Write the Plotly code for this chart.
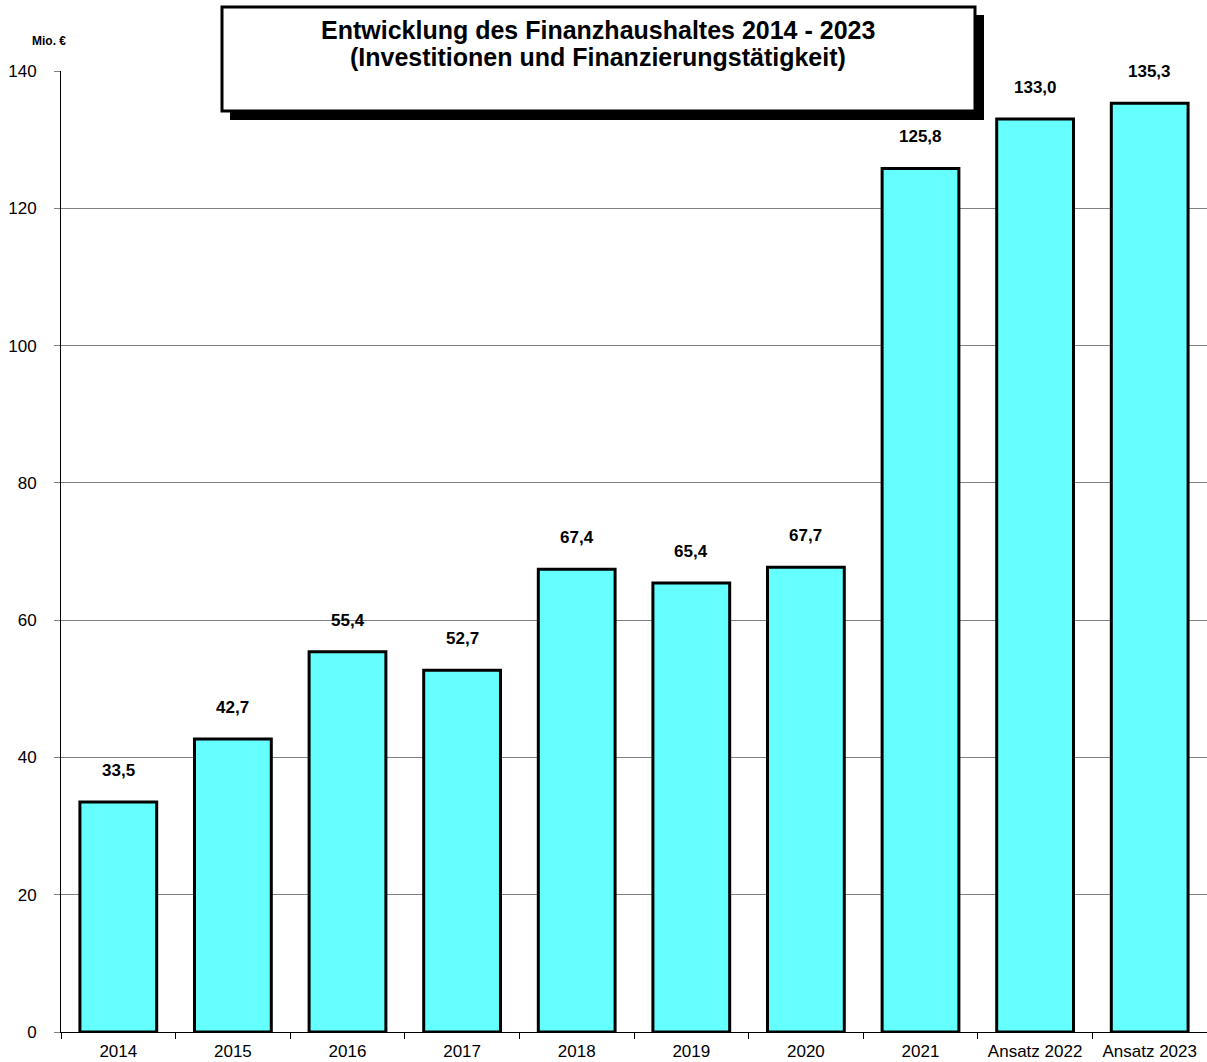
import plotly.graph_objects as go

categories = ["2014", "2015", "2016", "2017", "2018", "2019", "2020", "2021", "Ansatz 2022", "Ansatz 2023"]
values = [33.5, 42.7, 55.4, 52.7, 67.4, 65.4, 67.7, 125.8, 133.0, 135.3]
value_labels = ["33,5", "42,7", "55,4", "52,7", "67,4", "65,4", "67,7", "125,8", "133,0", "135,3"]
y_ticks = [0, 20, 40, 60, 80, 100, 120, 140]
title_lines = ["Entwicklung des Finanzhaushaltes 2014 - 2023",
               "(Investitionen und Finanzierungstätigkeit)"]

W, H = 1207, 1062
L, R, T, B = 61, 0, 71, 30
pw, ph = W - L - R, H - T - B

def px(x):
    return (x - L) / pw

def py(y):
    return (H - B - y) / ph

FONT = "Arial, Liberation Sans, sans-serif"

fig = go.Figure()
fig.add_trace(go.Bar(
    x=categories, y=values,
    marker=dict(color="#66FFFF", line=dict(color="black", width=3)),
    width=0.67,
    hoverinfo="x+y",
))

for i, (v, t) in enumerate(zip(values, value_labels)):
    fig.add_annotation(x=i, y=v, xref="x", yref="y", text=f"<b>{t}</b>", showarrow=False,
                       yanchor="bottom", yshift=20,
                       font=dict(family=FONT, size=17, color="black"))

# title box with shadow
fig.add_shape(type="rect", xref="paper", yref="paper",
              x0=px(230), x1=px(984), y0=py(120), y1=py(15),
              fillcolor="black", line=dict(width=0), layer="above")
fig.add_shape(type="rect", xref="paper", yref="paper",
              x0=px(222), x1=px(975), y0=py(111), y1=py(7),
              fillcolor="white", line=dict(color="black", width=3), layer="above")
for line, yc in zip(title_lines, [30, 57]):
    fig.add_annotation(xref="paper", yref="paper", x=px(598), y=py(yc),
                       text=f"<b>{line}</b>",
                       showarrow=False, xanchor="center", yanchor="middle",
                       font=dict(family=FONT, size=25, color="black"))
fig.add_annotation(xref="paper", yref="paper", x=px(30), y=py(41),
                   text="<b>Mio. €</b>", showarrow=False, xanchor="left", yanchor="middle",
                   font=dict(family=FONT, size=12, color="black"))

fig.update_layout(
    width=W, height=H,
    margin=dict(l=L, r=R, t=T, b=B),
    paper_bgcolor="white", plot_bgcolor="white",
    showlegend=False,
    font=dict(family=FONT, size=17, color="black"),
    xaxis=dict(type="category", range=[-0.5, len(categories) - 0.5], autorange=False,
               tickson="boundaries", ticks="outside", ticklen=6,
               tickcolor="black", showline=True, linecolor="black", linewidth=1,
               showgrid=False, tickfont=dict(size=17), ticklabelstandoff=4),
    yaxis=dict(range=[0, 140], autorange=False, tickvals=y_ticks, ticks="outside", ticklen=6,
               tickcolor="#808080", showline=True, linecolor="black", linewidth=1,
               showgrid=True, gridcolor="#808080", gridwidth=1, zeroline=False,
               tickfont=dict(size=17), ticklabelstandoff=14),
)

fig.write_html("out.html", config={"displayModeBar": False},
               post_script="document.body.style.margin='0';document.body.style.overflow='hidden';")
